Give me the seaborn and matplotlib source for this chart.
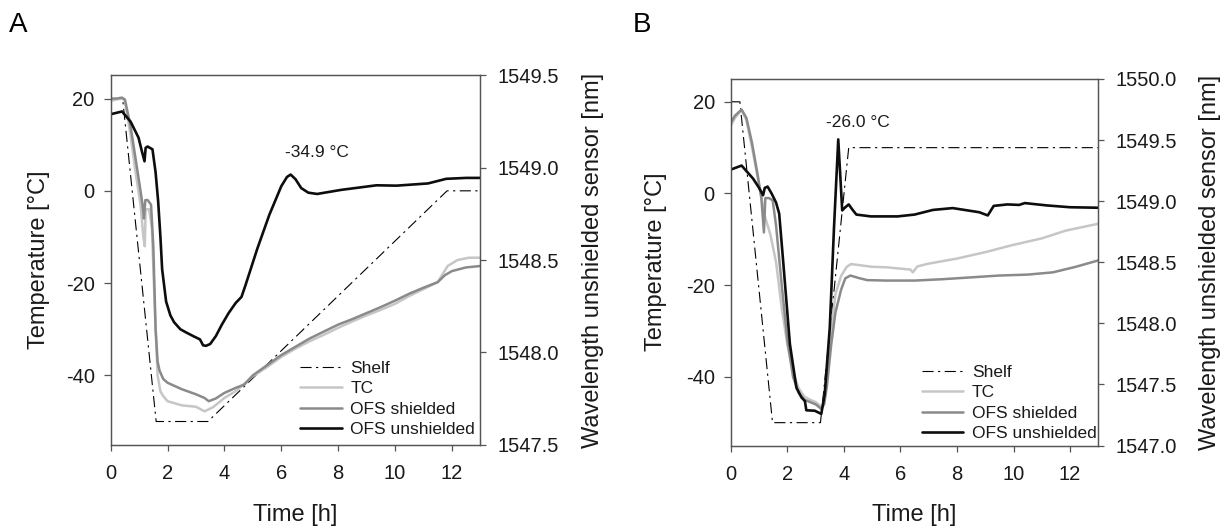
import matplotlib
matplotlib.use("Agg")
import matplotlib.pyplot as plt
from matplotlib.ticker import FormatStrFormatter, MultipleLocator
import seaborn as sns

# ---------------- Panel A data ----------------
a_shelf_t = [0, 0.42, 1.6, 3.42, 11.83, 13]
a_shelf_T = [20, 20, -50, -50, 0, 0]

a_tc_t = [0, 0.2, 0.4, 0.5, 0.7, 0.9, 1.05, 1.15, 1.2, 1.23, 1.35, 1.45, 1.55, 1.65, 1.75, 1.85,
          2.0, 2.5, 3.0, 3.3, 3.6, 4.0, 4.4, 5.0, 5.5, 6.0, 6.5, 7.0, 7.5, 8.0, 8.5, 9.0, 9.5,
          10.0, 10.5, 11.0, 11.5, 11.85, 12.2, 12.6, 13.0]
a_tc_T = [19.5, 19.8, 20.0, 19.5, 12, 3, -3, -10, -12, -4, -4, -8, -25, -40, -43.5, -44.5,
          -45.6, -46.5, -46.8, -47.8, -46.9, -44.9, -43.4, -40.2, -38.2, -36, -34.2, -32.6, -31.2,
          -29.7, -28.3, -27, -25.8, -24.5, -22.8, -21.3, -19.8, -16.3, -15, -14.5, -14.5]

a_sh_t = [0, 0.2, 0.4, 0.5, 0.7, 0.9, 1.05, 1.12, 1.17, 1.22, 1.3, 1.42, 1.5, 1.58, 1.65, 1.72,
          1.85, 2.0, 2.5, 3.0, 3.3, 3.45, 3.7, 4.0, 4.4, 4.7, 5.0, 5.5, 6.0, 6.5, 7.0, 7.5, 8.0,
          8.5, 9.0, 9.5, 10.0, 10.5, 11.0, 11.5, 11.75, 12.0, 12.5, 13.0]
a_sh_T = [20, 20, 20.2, 19.8, 14, 6, 0, -3, -6, -2, -2, -3, -12, -30, -37, -39,
          -40.8, -41.6, -43, -44.1, -44.9, -45.6, -45, -43.8, -42.7, -42, -40, -37.8, -35.6,
          -33.8, -32, -30.5, -29, -27.8, -26.5, -25.2, -23.8, -22.3, -21, -19.8, -18.3, -17.4,
          -16.6, -16.3]

# OFS unshielded: wavelength [nm] on right axis
a_un_t = [0, 0.4, 0.7, 0.98, 1.1, 1.19, 1.23, 1.3, 1.47, 1.58, 1.67, 1.75, 1.81, 1.95, 2.1,
          2.23, 2.45, 2.65, 2.9, 3.14, 3.25, 3.35, 3.5, 3.7, 3.91, 4.15, 4.4, 4.6, 4.74, 5.16,
          5.58, 6.0, 6.2, 6.33, 6.5, 6.7, 6.95, 7.26, 8.1, 9.35, 10.05, 11.16, 11.8, 12.5, 13.0]
a_un_W = [1549.290, 1549.305, 1549.250, 1549.163, 1549.088, 1549.035, 1549.108, 1549.115,
          1549.100, 1548.975, 1548.818, 1548.625, 1548.450, 1548.275, 1548.200, 1548.163,
          1548.125, 1548.108, 1548.088, 1548.070, 1548.038, 1548.035, 1548.045, 1548.088,
          1548.150, 1548.213, 1548.268, 1548.300, 1548.363, 1548.563, 1548.745, 1548.900,
          1548.950, 1548.963, 1548.938, 1548.890, 1548.865, 1548.858, 1548.880, 1548.905,
          1548.903, 1548.915, 1548.940, 1548.945, 1548.945]

# ---------------- Panel B data ----------------
b_shelf_t = [0, 0.32, 1.475, 3.17, 4.17, 13]
b_shelf_T = [20, 20, -50, -50, 10, 10]

b_tc_t = [0, 0.15, 0.38, 0.55, 0.75, 0.95, 1.1, 1.18, 1.4, 1.6, 1.8, 2.0, 2.2, 2.4, 2.6, 2.8,
          3.0, 3.2, 3.3, 3.4, 3.55, 3.7, 3.9, 4.1, 4.25, 4.5, 5.0, 5.5, 6.0, 6.35, 6.44, 6.6,
          7.0, 8.0, 9.0, 10.0, 11.0, 11.85, 13.0]
b_tc_T = [14.8, 16.5, 18.2, 16, 10, 3.5, -1.5, -4.5, -9, -15, -25, -33, -39, -42.5, -44.3, -45,
          -45.5, -46.5, -45.5, -40, -30, -22, -18, -16, -15.4, -15.6, -16, -16.1, -16.4, -16.6,
          -17.2, -15.9, -15.3, -14.2, -12.8, -11.2, -9.8, -8.1, -6.6]

b_sh_t = [0, 0.15, 0.38, 0.55, 0.75, 0.95, 1.08, 1.17, 1.22, 1.35, 1.48, 1.6, 1.8, 2.0, 2.2,
          2.4, 2.6, 2.8, 3.0, 3.2, 3.3, 3.4, 3.55, 3.7, 3.9, 4.05, 4.23, 4.5, 4.82, 5.5, 6.5,
          7.5, 8.5, 9.5, 10.5, 11.4, 12.2, 13.0]
b_sh_T = [15.5, 17, 18.3, 16.5, 11, 4, -1, -8.5, -1, -1, -1.5, -7, -20, -32, -40,
          -43.5, -45, -45.5, -46, -47, -46, -42, -33, -26, -21, -18.5, -17.9, -18.4, -18.9, -19,
          -19, -18.7, -18.3, -17.9, -17.7, -17.2, -16, -14.6]

b_un_t = [0, 0.38, 0.79, 1.0, 1.14, 1.2, 1.3, 1.44, 1.6, 1.71, 1.85, 2.09, 2.32, 2.5, 2.62,
          2.67, 2.97, 3.2, 3.32, 3.5, 3.65, 3.8, 3.94, 4.05, 4.17, 4.3, 4.44, 4.95, 5.9, 6.5,
          7.15, 7.85, 8.79, 9.09, 9.3, 9.78, 10.2, 10.4, 11.17, 12.0, 12.97]
b_un_W = [1549.258, 1549.291, 1549.183, 1549.108, 1549.048, 1549.108, 1549.119, 1549.063,
          1548.988, 1548.898, 1548.511, 1547.829, 1547.473, 1547.394, 1547.364, 1547.289,
          1547.285, 1547.259, 1547.420, 1547.964, 1548.785, 1549.505, 1548.924, 1548.950,
          1548.973, 1548.931, 1548.890, 1548.875, 1548.875, 1548.890, 1548.928, 1548.943,
          1548.909, 1548.883, 1548.961, 1548.973, 1548.969, 1548.984, 1548.965, 1548.950,
          1548.946]

# ---------------- Style ----------------
sns.set_style("ticks")
plt.rcParams["font.family"] = ["Liberation Sans", "DejaVu Sans"]
plt.rcParams["axes.unicode_minus"] = False

SPINE = "#555555"
C_TC = "#c6c6c6"
C_SH = "#8a8a8a"
C_UN = "#0d0d0d"

fig = plt.figure(figsize=(12.31, 5.26), dpi=100)


def panel(rect, shelf, tc, sh, un, wlim, ann, lab_pos, legend_anchor):
    ax = fig.add_axes(rect)
    ax2 = ax.twinx()
    sns.lineplot(x=shelf[0], y=shelf[1], ax=ax, color="black", lw=0.8,
                 dashes=False, linestyle=(0, (10, 4, 2, 4)), label="Shelf",
                 estimator=None, legend=False)
    sns.lineplot(x=tc[0], y=tc[1], ax=ax, color=C_TC, lw=1.8, label="TC",
                 estimator=None, legend=False)
    sns.lineplot(x=sh[0], y=sh[1], ax=ax, color=C_SH, lw=1.8, label="OFS shielded",
                 estimator=None, legend=False)
    sns.lineplot(x=un[0], y=un[1], ax=ax2, color=C_UN, lw=1.9, label="OFS unshielded",
                 estimator=None, legend=False)

    ax.set_xlim(0, 13)
    ax.set_ylim(-55, 25)
    ax2.set_ylim(*wlim)
    ax.xaxis.set_major_locator(MultipleLocator(2))
    ax.set_yticks([-40, -20, 0, 20])
    ax2.yaxis.set_major_locator(MultipleLocator(0.5))
    ax2.yaxis.set_major_formatter(FormatStrFormatter("%.1f"))

    for a in (ax, ax2):
        for s in a.spines.values():
            s.set_color(SPINE)
            s.set_linewidth(0.9)
    ax.tick_params(axis="y", direction="out", length=5, width=0.9, color=SPINE,
                   labelsize=14.5, pad=6.5, labelcolor="#1a1a1a")
    ax.tick_params(axis="x", direction="out", length=4, width=0.9, color=SPINE,
                   labelsize=14.5, pad=10, labelcolor="#1a1a1a")
    ax2.tick_params(axis="y", direction="out", length=4.5, width=0.9, color=SPINE,
                    labelsize=14.5, pad=8, labelcolor="#1a1a1a")

    ax.set_xlabel("Time [h]", fontsize=17, color="#1a1a1a")
    ax.set_ylabel("Temperature [°C]", fontsize=17, color="#1a1a1a")
    ax2.set_ylabel("Wavelength unshielded sensor [nm]", fontsize=17, color="#1a1a1a")
    ax.xaxis.set_label_coords(0.5, lab_pos[0])
    ax.yaxis.set_label_coords(lab_pos[1], 0.5)
    ax2.yaxis.set_label_coords(lab_pos[2], 0.5)

    ax.text(ann[0], ann[1], ann[2], ha="center", va="center", fontsize=12.5, color="#1a1a1a")

    h1, l1 = ax.get_legend_handles_labels()
    h2, l2 = ax2.get_legend_handles_labels()
    leg = ax2.legend(h1 + h2, l1 + l2, loc="lower left", bbox_to_anchor=legend_anchor,
                     frameon=False, fontsize=12.5, handlelength=2.4, handletextpad=0.5,
                     labelspacing=0.3, borderpad=0, borderaxespad=0)
    for t in leg.get_texts():
        t.set_color("#1a1a1a")
    return ax, ax2


panel([0.0899, 0.1548, 0.3003, 0.7017],
      (a_shelf_t, a_shelf_T), (a_tc_t, a_tc_T), (a_sh_t, a_sh_T), (a_un_t, a_un_W),
      (1547.5, 1549.5), (7.24, 8.3, "-34.9 °C"), (-0.162, -0.164, 1.275), (0.512, 0.02))

panel([0.5937, 0.1529, 0.2985, 0.6971],
      (b_shelf_t, b_shelf_T), (b_tc_t, b_tc_T), (b_sh_t, b_sh_T), (b_un_t, b_un_W),
      (1547.0, 1550.0), (4.5, 15.5, "-26.0 °C"), (-0.160, -0.175, 1.274), (0.519, 0.0125))

fig.text(9 / 1231, 1 - 32 / 526, "A", fontsize=20, va="baseline", ha="left", color="black")
fig.text(633 / 1231, 1 - 32 / 526, "B", fontsize=20, va="baseline", ha="left", color="black")

fig.savefig("out.png", dpi=100)
